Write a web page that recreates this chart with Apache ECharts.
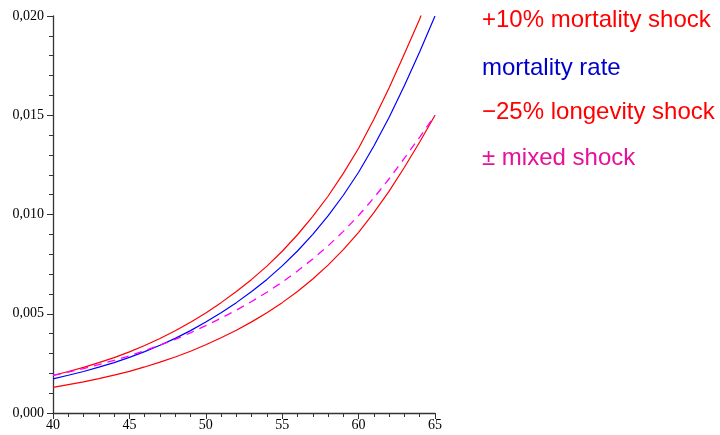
<!DOCTYPE html>
<html>
<head>
<meta charset="utf-8">
<script src="https://cdn.jsdelivr.net/npm/echarts@6/dist/echarts.min.js"></script>
<style>html,body{margin:0;padding:0;background:#fff}#c{width:720px;height:435px}</style>
</head>
<body>
<div id="c"></div>
<script>
const ages = [40,41,42,43,44,45,46,47,48,49,50,51,52,53,54,55,56,57,58,59,60,61,62,63,64,65];
const mortalityRate = [0.00172,0.00190,0.00209,0.00231,0.00254,0.00280,0.00309,0.00341,0.00376,0.00415,0.00458,0.00505,0.00556,0.00612,0.00673,0.00741,0.00816,0.00900,0.00993,0.01097,0.01213,0.01345,0.01490,0.01650,0.01820,0.02000];
const mortalityShock = [0.00189,0.00209,0.00230,0.00254,0.00279,0.00308,0.00340,0.00375,0.00414,0.00457,0.00504,0.00556,0.00612,0.00673,0.00740,0.00815,0.00898,0.00990,0.01092,0.01207,0.01334,0.01480,0.01639,0.01810,0.01985,0.02200];
const longevityShock = [0.00129,0.00143,0.00157,0.00173,0.00191,0.00210,0.00232,0.00256,0.00282,0.00311,0.00344,0.00379,0.00417,0.00459,0.00505,0.00556,0.00612,0.00675,0.00745,0.00823,0.00910,0.01009,0.01118,0.01238,0.01365,0.01500];
const mixedShock = [0.00189,0.00206,0.00224,0.00244,0.00265,0.00288,0.00314,0.00342,0.00371,0.00404,0.00440,0.00478,0.00518,0.00562,0.00608,0.00659,0.00715,0.00776,0.00842,0.00915,0.00995,0.01084,0.01180,0.01284,0.01390,0.01500];
const legendLabels = ['+10% mortality shock','mortality rate','\u221225% longevity shock','\u00b1 mixed shock'];

const pair = arr => ages.map((a,i)=>[a,arr[i]]);
const chart = echarts.init(document.getElementById('c'), null, {renderer:'canvas'});
const axisCol = '#333';
chart.setOption({
  animation:false,
  backgroundColor:'#fff',
  grid:{left:53,right:285,top:16,bottom:22,containLabel:false},
  xAxis:{type:'value',min:40,max:65,interval:5,
    axisLine:{onZero:false,lineStyle:{color:axisCol,width:1.3}},
    axisTick:{length:6,lineStyle:{color:axisCol}},
    minorTick:{show:true,splitNumber:5,length:4,lineStyle:{color:axisCol}},
    splitLine:{show:false},
    axisLabel:{fontFamily:'Liberation Serif',fontSize:14,color:'#000',margin:5}},
  yAxis:{type:'value',min:0,max:0.02,interval:0.005,
    axisLine:{show:true,lineStyle:{color:axisCol,width:1.3}},
    axisTick:{show:true,length:6,lineStyle:{color:axisCol}},
    minorTick:{show:true,splitNumber:5,length:4,lineStyle:{color:axisCol}},
    splitLine:{show:false},
    axisLabel:{fontFamily:'Liberation Serif',fontSize:14,color:'#000',margin:9,
      formatter:v=>v.toFixed(3).replace('.',',')}},
  series:[
    {name:legendLabels[0],type:'line',data:pair(mortalityShock),showSymbol:false,clip:true,lineStyle:{color:'#ff0000',width:1.2}},
    {name:legendLabels[1],type:'line',data:pair(mortalityRate),showSymbol:false,lineStyle:{color:'#0000ff',width:1.2}},
    {name:legendLabels[2],type:'line',data:pair(longevityShock),showSymbol:false,lineStyle:{color:'#ff0000',width:1.2}},
    {name:legendLabels[3],type:'line',data:pair(mixedShock),showSymbol:false,lineStyle:{color:'#ff00ff',width:1.3,type:[8,6]}}
  ],
  graphic:[
    {type:'text',left:482,top:8,style:{text:legendLabels[0],font:'24px "Liberation Sans"',fill:'#ff0000'}},
    {type:'text',left:482,top:56,style:{text:legendLabels[1],font:'24px "Liberation Sans"',fill:'#0000cc'}},
    {type:'text',left:482,top:100,style:{text:legendLabels[2],font:'24px "Liberation Sans"',fill:'#ff0000'}},
    {type:'text',left:482,top:146,style:{text:legendLabels[3],font:'24px "Liberation Sans"',fill:'#e6109a'}}
  ]
});
</script>
</body>
</html>
